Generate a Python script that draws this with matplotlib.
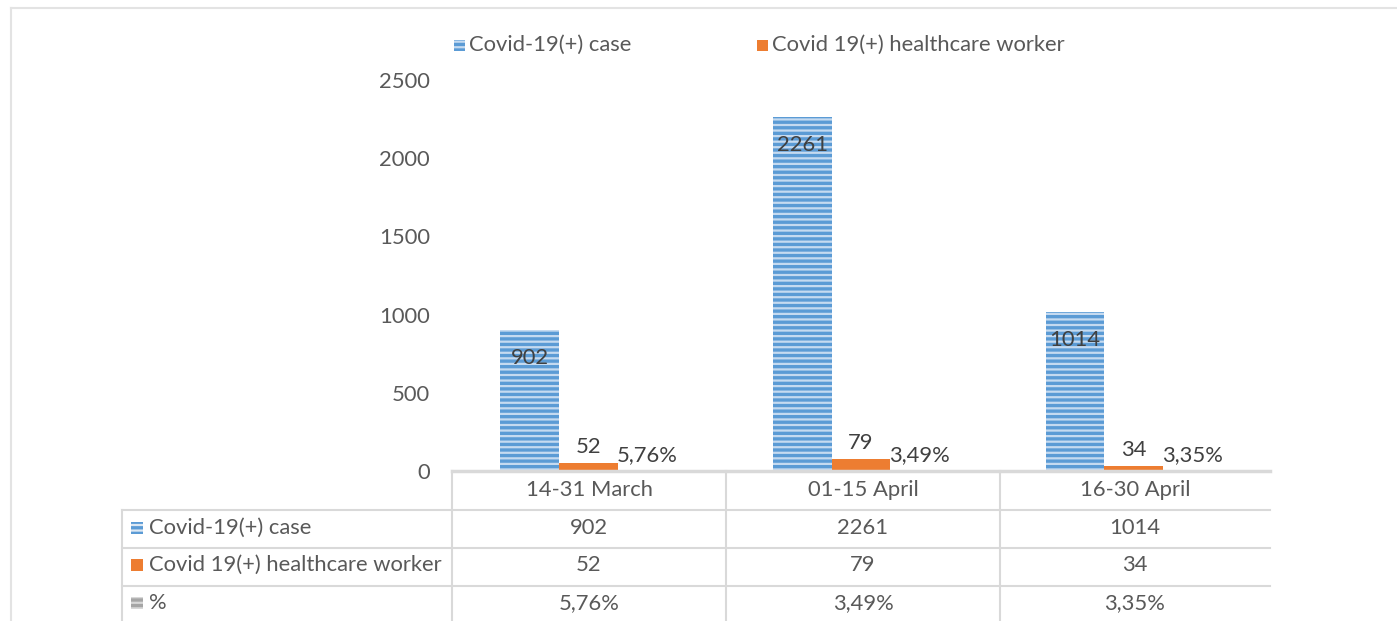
import numpy as np
import matplotlib.pyplot as plt
from matplotlib.patches import Rectangle
from matplotlib.lines import Line2D

periods = ["14-31 March", "01-15 April", "16-30 April"]
cases = [902, 2261, 1014]
workers = [52, 79, 34]
pct = [0.0576, 0.0349, 0.0335]
pct_labels = ["5,76%", "3,49%", "3,35%"]
series_names = ["Covid-19(+) case", "Covid 19(+) healthcare worker", "%"]
yticks = [0, 500, 1000, 1500, 2000, 2500]

blue = "#5B9BD5"
orange = "#ED7D31"
gray = "#A5A5A5"
txt = "#595959"
grid = "#D9D9D9"
fs = 15.8

plt.rcParams['font.family'] = ['Lato', 'DejaVu Sans']
plt.rcParams['hatch.linewidth'] = 1.6

W, H = 1397, 621
fig = plt.figure(figsize=(W / 100, H / 100), dpi=100)

def fx(x):
    return x / W

def fy(y):
    return 1 - y / H

# outer chart border (only top and left visible)
fig.add_artist(Line2D([fx(11), 1], [fy(8), fy(8)], color="#E3E3E3", lw=1.5))
fig.add_artist(Line2D([fx(11), fx(11)], [fy(8), 0], color="#E3E3E3", lw=1.5))

ax = fig.add_axes([fx(452), fy(471), fx(1270) - fx(452), fy(80) - fy(471)])
x = np.arange(len(periods))
w = 0.215

ax.bar(x - w, cases, w, color=blue, edgecolor="#C5DAF0", linewidth=0, hatch="---")
ax.bar(x, workers, w, color=orange, linewidth=0)
ax.bar(x + w, pct, w, color=gray, linewidth=0)

for xi, v in zip(x, cases):
    ax.annotate(str(v), (xi - w, v), xytext=(0, -20), textcoords="offset points",
                ha="center", va="center", fontsize=fs, color="#404040")
for xi, v in zip(x, workers):
    ax.annotate(str(v), (xi, v), xytext=(0, 4), textcoords="offset points",
                ha="center", va="bottom", fontsize=fs, color="#404040")
for xi, v, lab in zip(x, pct, pct_labels):
    ax.annotate(lab, (xi + w, v), xytext=(0, 4), textcoords="offset points",
                ha="center", va="bottom", fontsize=fs, color="#404040")

ax.set_xlim(-0.5, 2.5)
ax.set_ylim(0, 2500)
ax.set_yticks(yticks)
ax.set_xticks([])
ax.tick_params(axis="y", length=0, pad=16, labelsize=fs, labelcolor=txt)
for s in ["top", "right", "left"]:
    ax.spines[s].set_visible(False)
ax.spines["bottom"].set_color(grid)
ax.spines["bottom"].set_linewidth(2.5)

# legend at top
leg_items = [(454, series_names[0], blue, "---"), (757, series_names[1], orange, None)]
for lx, name, col, hat in leg_items:
    fig.add_artist(Rectangle((fx(lx), fy(51)), fx(11), 11 / H, facecolor=col,
                             edgecolor="#C5DAF0", linewidth=0, hatch=hat))
    fig.text(fx(lx + 15), fy(45), name, fontsize=fs, color=txt, va="center", ha="left")

# data table
row_lines = [510, 548, 586]
for ry in row_lines:
    fig.add_artist(Line2D([fx(122), fx(1270)], [fy(ry), fy(ry)], color=grid, lw=1.5))
fig.add_artist(Line2D([fx(122), fx(122)], [fy(510), 0], color=grid, lw=1.5))
for cx in [452, 726, 1000]:
    fig.add_artist(Line2D([fx(cx), fx(cx)], [fy(471), 0], color=grid, lw=1.5))

col_centers = [589, 863, 1135]
for cx, p in zip(col_centers, periods):
    fig.text(fx(cx), fy(490), p, fontsize=fs, color=txt, ha="center", va="center")

rows = [
    (528, series_names[0], blue, "---", [str(v) for v in cases]),
    (565, series_names[1], orange, None, [str(v) for v in workers]),
    (603, series_names[2], gray, "---", pct_labels),
]
for ry, name, col, hat, vals in rows:
    fig.add_artist(Rectangle((fx(131), fy(ry + 6)), fx(12), 12 / H, facecolor=col,
                             edgecolor="#DDE8F3" if col == blue else "#D8D8D8",
                             linewidth=0, hatch=hat))
    fig.text(fx(149), fy(ry), name, fontsize=fs, color=txt, ha="left", va="center")
    for cx, v in zip(col_centers, vals):
        fig.text(fx(cx), fy(ry), v, fontsize=fs, color=txt, ha="center", va="center")

fig.savefig("out.png", dpi=100)
